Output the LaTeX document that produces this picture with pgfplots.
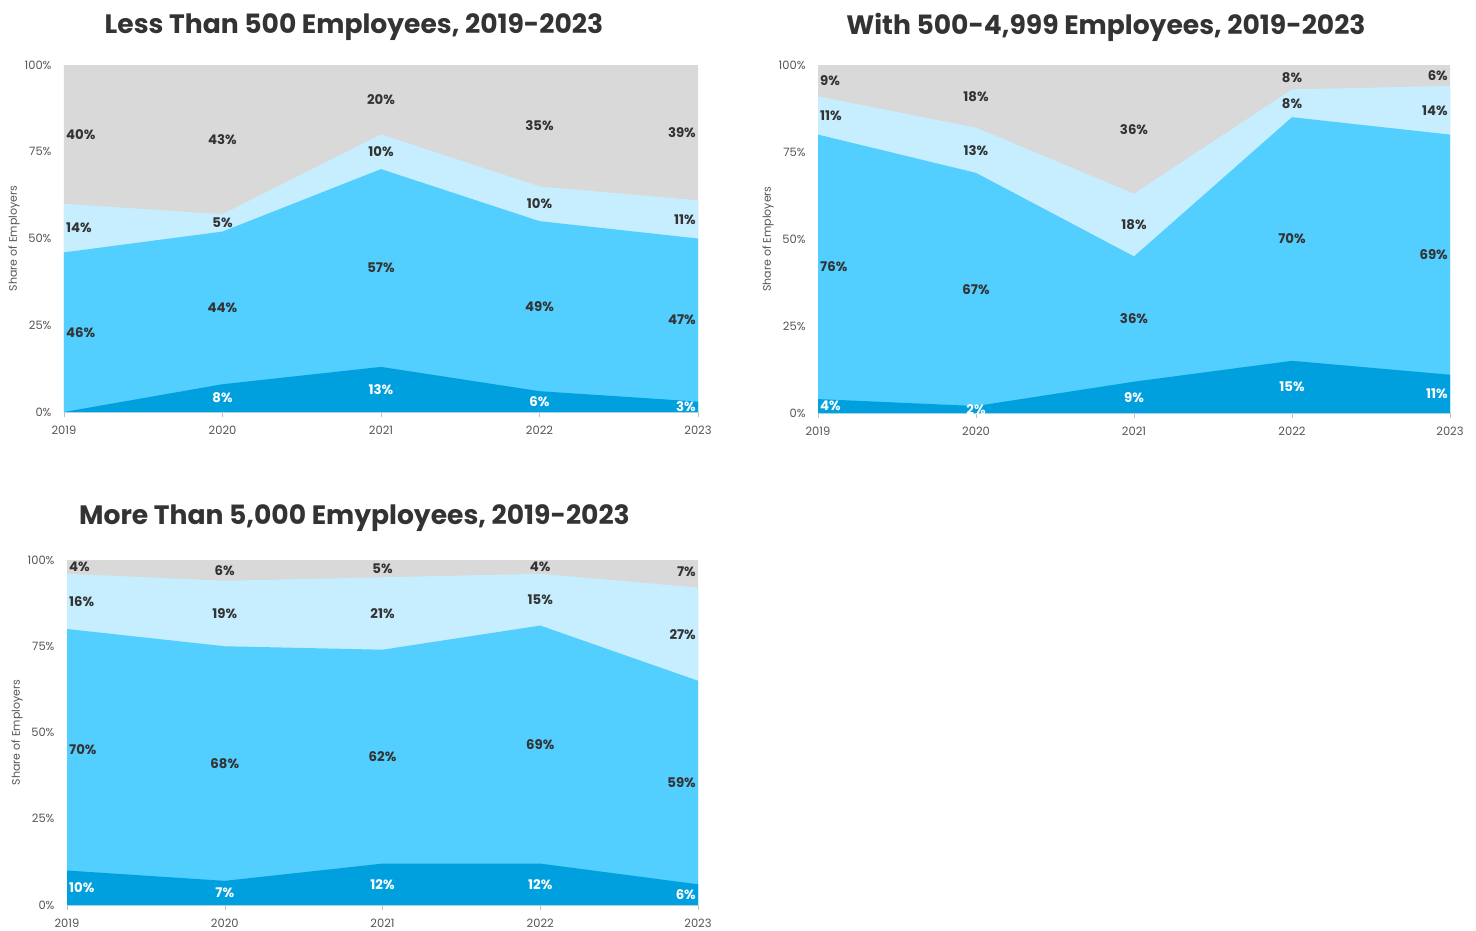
\documentclass[border=0pt]{standalone}
\usepackage{pgfplots}
\pgfplotsset{compat=1.18}
\usepackage{pgfplotstable}
\usepackage{fontspec}
\setmainfont{Poppins}
\definecolor{cgray}{HTML}{D9D9D9}
\definecolor{clight}{HTML}{C6EEFF}
\definecolor{cmed}{HTML}{52CEFF}
\definecolor{cdark}{HTML}{00A0DF}
\definecolor{ctxt}{HTML}{333333}
\definecolor{ctick}{HTML}{555555}

% cumulative tops of the stacked layers
\pgfplotstableread{
year dark med light full
2019 0 46 60 100
2020 8 52 57 100
2021 13 70 80 100
2022 6 55 65 100
2023 3 50 61 100
}\areaA
% anc: -1 west, 0 center, 1 east ; w: 1 white text
\pgfplotstableread{
x y lab anc w
2019 23 46 -1 0
2019 53 14 -1 0
2019 80 40 -1 0
2020 4 8 0 1
2020 30 44 0 0
2020 54.5 5 0 0
2020 78.5 43 0 0
2021 6.5 13 0 1
2021 41.5 57 0 0
2021 75 10 0 0
2021 90 20 0 0
2022 3 6 0 1
2022 30.5 49 0 0
2022 60 10 0 0
2022 82.5 35 0 0
2023 1.5 3 1 1
2023 26.5 47 1 0
2023 55.5 11 1 0
2023 80.5 39 1 0
}\labA

\pgfplotstableread{
year dark med light full
2019 4 80 91 100
2020 2 69 82 100
2021 9 45 63 100
2022 15 85 93 100
2023 11 80 94 100
}\areaB
\pgfplotstableread{
x y lab anc w
2019 2 4 -1 1
2019 42 76 -1 0
2019 85.5 11 -1 0
2019 95.5 9 -1 0
2020 1 2 0 1
2020 35.5 67 0 0
2020 75.5 13 0 0
2020 91 18 0 0
2021 4.5 9 0 1
2021 27 36 0 0
2021 54 18 0 0
2021 81.5 36 0 0
2022 7.5 15 0 1
2022 50 70 0 0
2022 89 8 0 0
2022 96.5 8 0 0
2023 5.5 11 1 1
2023 45.5 69 1 0
2023 87 14 1 0
2023 97 6 1 0
}\labB

\pgfplotstableread{
year dark med light full
2019 10 80 96 100
2020 7 75 94 100
2021 12 74 95 100
2022 12 81 96 100
2023 6 65 92 100
}\areaC
\pgfplotstableread{
x y lab anc w
2019 5 10 -1 1
2019 45 70 -1 0
2019 88 16 -1 0
2019 98 4 -1 0
2020 3.5 7 0 1
2020 41 68 0 0
2020 84.5 19 0 0
2020 97 6 0 0
2021 6 12 0 1
2021 43 62 0 0
2021 84.5 21 0 0
2021 97.5 5 0 0
2022 6 12 0 1
2022 46.5 69 0 0
2022 88.5 15 0 0
2022 98 4 0 0
2023 3 6 1 1
2023 35.5 59 1 0
2023 78.5 27 1 0
2023 96.5 7 1 0
}\labC

\pgfplotsset{
  panel/.style={
    scale only axis, anchor=north west,
    xmin=2019, xmax=2023, ymin=0, ymax=100,
    xtick={2019,2020,2021,2022,2023},
    xticklabels={2019,2020,2021,2022,2023},
    ytick={0,25,50,75,100},
    yticklabels={0\%,25\%,50\%,75\%,100\%},
    axis x line*=bottom, axis y line*=left,
    x axis line style={draw=black!15,-},
    y axis line style={draw=none},
    xtick style={draw=black!25},
    ytick style={draw=none},
    tick align=outside, major tick length=5pt,
    tick label style={font=\fontsize{11.5}{13}\selectfont, text=ctick},
    xticklabel style={yshift=-5pt},
    yticklabel style={xshift=-4pt},
    ylabel={Share of Employers},
    every axis y label/.style={at={(axis description cs:0,0.5)}, rotate=90, anchor=center, yshift=50pt,
      font=\fontsize{11}{12}\selectfont, text=ctick},
    title style={font=\bfseries\fontsize{26.6}{30}\selectfont, text=ctxt, anchor=center, at={(axis description cs:0.5,1)}},
  },
  labs/.style={draw=none, mark=none,
    nodes near coords={\pgfplotspointmeta\%},
    point meta=explicit symbolic,
    visualization depends on={\thisrow{anc} \as \anc},
    visualization depends on={\thisrow{w} \as \wcol},
    every node near coord/.style={inner sep=2pt,
      font=\bfseries\fontsize{13.3}{14}\selectfont},
    every node near coord/.append code={%
      \ifdim\anc pt<-0.5pt \pgfkeysalso{anchor=west}\else
        \ifdim\anc pt>0.5pt \pgfkeysalso{anchor=east}\else
          \pgfkeysalso{anchor=center}\fi\fi
      \ifdim\wcol pt>0.5pt \pgfkeysalso{text=white}\else
        \pgfkeysalso{text=ctxt}\fi},
  },
}

\newcommand{\areas}[1]{%
  \addplot[fill=cgray, draw=none] table[x=year,y=full]{#1} \closedcycle;
  \addplot[fill=clight, draw=none] table[x=year,y=light]{#1} \closedcycle;
  \addplot[fill=cmed, draw=none] table[x=year,y=med]{#1} \closedcycle;
  \addplot[fill=cdark, draw=none] table[x=year,y=dark]{#1} \closedcycle;
}

\begin{document}
\begin{tikzpicture}
\path[use as bounding box] (0,0) rectangle (1476pt,-930pt);

\begin{axis}[panel, at={(64pt,-65pt)}, width=634pt, height=347pt,
  title={Less Than 500 Employees, 2019-2023},
  title style={xshift=-27pt, yshift=32pt}]
\areas{\areaA}
\addplot[labs] table[x=x,y=y,meta=lab]{\labA};
\end{axis}

\begin{axis}[panel, at={(818pt,-65pt)}, width=632pt, height=348pt,
  title={With 500-4,999 Employees, 2019-2023},
  title style={xshift=-28pt, yshift=32pt}]
\areas{\areaB}
\addplot[labs] table[x=x,y=y,meta=lab]{\labB};
\end{axis}

\begin{axis}[panel, at={(67pt,-560pt)}, width=631pt, height=345pt,
  title={More Than 5,000 Emyployees, 2019-2023},
  title style={xshift=-28pt, yshift=36pt}]
\areas{\areaC}
\addplot[labs] table[x=x,y=y,meta=lab]{\labC};
\end{axis}
\end{tikzpicture}
\end{document}
